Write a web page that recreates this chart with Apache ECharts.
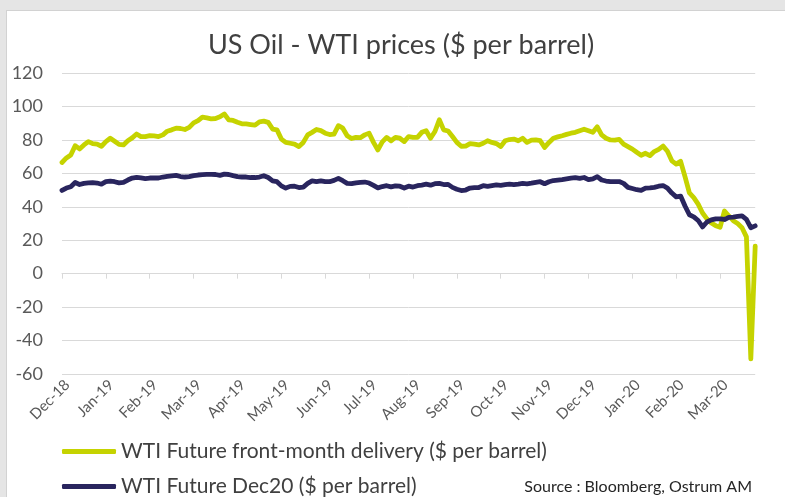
<!DOCTYPE html>
<html>
<head>
<meta charset="utf-8">
<script src="https://cdn.jsdelivr.net/npm/echarts@6/dist/echarts.min.js"></script>
<style>
  html, body { margin: 0; padding: 0; }
  #bg { position: absolute; left: 0; top: 0; width: 785px; height: 497px; background: #e5e5e5; }
  #panel { position: absolute; left: 6px; top: 10px; width: 779px; height: 487px; background: #ffffff;
           border-left: 1px solid #d2d2d2; border-top: 1px solid #d2d2d2; box-sizing: border-box; }
  #chart { position: absolute; left: 0; top: 0; width: 785px; height: 497px; }
</style>
</head>
<body>
<div id="bg"></div>
<div id="panel"></div>
<div id="chart"></div>
<script>
// Tick labels (one every 10 samples)
const monthLabels = ['Dec-18','Jan-19','Feb-19','Mar-19','Apr-19','May-19','Jun-19','Jul-19',
  'Aug-19','Sep-19','Oct-19','Nov-19','Dec-19','Jan-20','Feb-20','Mar-20'];
const samplesPerMonth = 10;

// WTI Future front-month delivery ($ per barrel)
const front = [
  66.5, 69.2, 71.0, 76.5, 74.6, 77.0, 79.0, 77.8, 77.5, 76.2,
  79.0, 81.0, 79.2, 77.3, 77.0, 79.5, 81.2, 83.5, 82.0, 82.0,
  82.5, 82.4, 82.0, 83.0, 85.2, 86.0, 87.0, 86.8, 86.2, 87.5,
  90.2, 91.5, 93.6, 93.2, 92.6, 92.8, 93.8, 95.5, 92.0, 91.6,
  90.5, 89.6, 89.6, 89.2, 88.8, 90.8, 91.2, 90.5, 86.5, 86.0,
  80.5, 78.5, 78.0, 77.5, 76.0, 78.5, 83.0, 84.5, 86.2, 85.5,
  84.0, 83.2, 83.5, 88.5, 87.0, 82.5, 80.8, 81.5, 81.3, 83.0,
  84.0, 78.5, 74.0, 78.8, 81.5, 79.5, 81.5, 81.0, 79.0, 82.0,
  81.5, 81.5, 84.5, 85.5, 81.0, 85.0, 92.0, 86.0, 85.3, 82.0,
  78.5, 76.2, 76.3, 77.8, 77.5, 77.0, 78.0, 79.5, 78.5, 77.8,
  76.0, 79.5, 80.2, 80.5, 79.5, 81.0, 78.5, 79.8, 80.0, 79.5,
  75.5, 78.5, 81.0, 81.8, 82.5, 83.3, 84.0, 84.5, 85.5, 86.4,
  85.5, 84.5, 87.8, 83.0, 81.0, 80.0, 79.8, 80.3, 77.5, 76.0,
  74.5, 72.6, 70.8, 72.0, 70.6, 73.0, 74.3, 76.3, 73.2, 67.5,
  65.5, 67.2, 58.0, 48.3, 45.5, 41.6, 36.3, 32.8, 30.3, 28.7,
  27.8, 37.5, 34.5, 31.7, 30.0, 27.5, 22.0, -51.0, 16.5
];

// WTI Future Dec20 ($ per barrel)
const dec20 = [
  49.8, 51.2, 52.0, 54.5, 53.3, 54.0, 54.3, 54.4, 54.2, 53.5,
  55.0, 55.3, 55.0, 54.3, 54.6, 56.0, 57.2, 57.6, 57.3, 56.9,
  57.2, 57.3, 57.2, 57.8, 58.2, 58.5, 58.8, 58.1, 57.8, 58.0,
  58.6, 59.0, 59.2, 59.4, 59.4, 59.3, 58.8, 59.5, 59.3, 58.6,
  58.0, 57.8, 57.8, 57.5, 57.5, 57.8, 58.6, 57.5, 55.5, 55.0,
  52.5, 51.2, 52.2, 52.3, 51.5, 51.8, 54.0, 55.5, 55.0, 55.5,
  55.0, 55.0, 55.8, 57.0, 55.6, 54.0, 53.8, 54.3, 54.6, 54.8,
  54.2, 52.8, 51.3, 52.1, 52.6, 51.9, 52.5, 52.3, 51.2, 52.3,
  51.8, 52.6, 53.0, 53.5, 52.9, 53.8, 54.0, 53.3, 53.4, 51.6,
  50.5, 49.7, 50.0, 51.2, 51.5, 51.5, 52.6, 52.2, 52.7, 53.1,
  52.8, 53.2, 53.5, 53.3, 53.6, 54.0, 53.7, 54.1, 54.6, 55.0,
  53.8, 55.0, 55.7, 56.0, 56.3, 56.7, 57.1, 57.4, 57.0, 57.5,
  56.2, 56.7, 58.0, 56.0, 55.4, 55.0, 55.1, 55.1, 54.0, 51.6,
  50.9, 50.2, 49.8, 51.2, 51.3, 51.6, 52.3, 52.7, 51.2, 48.2,
  45.9, 46.4, 40.5, 35.2, 34.0, 31.8, 28.0, 30.9, 32.2, 32.8,
  32.8, 32.4, 33.7, 33.8, 34.2, 34.5, 32.4, 27.5, 28.6
];

const seriesNames = ['WTI Future front-month delivery ($ per barrel)', 'WTI Future Dec20 ($ per barrel)'];
const FONT = 'Lato, "Open Sans", sans-serif';
const N = front.length;
const tickIdx = monthLabels.map((_, k) => k * samplesPerMonth);

const chart = echarts.init(document.getElementById('chart'), null, { renderer: 'canvas' });
chart.setOption({
  animation: false,
  color: ['#C5D300', '#29255E'],
  grid: { left: 62, right: 29.8, top: 73, bottom: 123 },
  xAxis: [
    {
      type: 'value', min: 0, max: N - 1,
      axisLine: { show: true, onZero: true, lineStyle: { color: '#d9d9d9', width: 1 } },
      axisTick: { show: true, customValues: tickIdx, length: 5, lineStyle: { color: '#d9d9d9' } },
      axisLabel: { show: false },
      splitLine: { show: false }
    },
    {
      type: 'value', min: 0, max: N - 1, position: 'bottom',
      axisLine: { show: false, onZero: false },
      axisTick: { show: false },
      splitLine: { show: false },
      axisLabel: {
        show: true, customValues: tickIdx, rotate: 45, margin: 3,
        align: 'right', verticalAlign: 'top',
        fontSize: 15, color: '#595959', fontFamily: FONT,
        formatter: v => monthLabels[Math.round(v / samplesPerMonth)] || ''
      }
    }
  ],
  yAxis: {
    type: 'value', min: -60, max: 120, interval: 20,
    axisLine: { show: false }, axisTick: { show: false },
    splitLine: { lineStyle: { color: '#d9d9d9', width: 1 } },
    axisLabel: { fontSize: 18, color: '#595959', margin: 19, fontFamily: FONT }
  },
  legend: {
    orient: 'vertical', left: 62, top: 441, padding: 0, itemGap: 14,
    itemWidth: 54, itemHeight: 5, icon: 'roundRect',
    textStyle: { fontSize: 21, color: '#404040', fontFamily: FONT },
    data: seriesNames
  },
  graphic: [
    { type: 'text', x: 401, y: 45, style: { text: 'US Oil - WTI prices ($ per barrel)', fontSize: 27,
      fontFamily: FONT, fill: '#404040', align: 'center', verticalAlign: 'middle' } },
    { type: 'text', x: 752, y: 487, style: { text: 'Source : Bloomberg, Ostrum AM', fontSize: 16,
      fontFamily: FONT, fill: '#262626', align: 'right', verticalAlign: 'middle' } }
  ],
  series: [
    {
      name: seriesNames[0], type: 'line', xAxisIndex: 0, showSymbol: false, symbol: 'none',
      data: front.map((v, i) => [i, v]),
      lineStyle: { width: 4.8, cap: 'round', join: 'round' }
    },
    {
      name: seriesNames[1], type: 'line', xAxisIndex: 0, showSymbol: false, symbol: 'none',
      data: dec20.map((v, i) => [i, v]),
      lineStyle: { width: 4.8, cap: 'round', join: 'round' }
    }
  ]
});
</script>
</body>
</html>
